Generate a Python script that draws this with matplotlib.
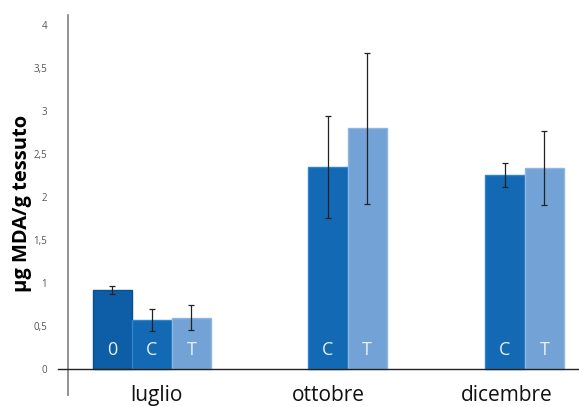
import matplotlib.pyplot as plt

# dati: MDA (µg/g tessuto), media e deviazione standard
mesi = ["luglio", "ottobre", "dicembre"]
gruppi = [["0", "C", "T"], ["C", "T"], ["C", "T"]]
medie = [[0.92, 0.57, 0.60], [2.35, 2.80], [2.26, 2.34]]
errori = [[0.05, 0.13, 0.15], [0.59, 0.88], [0.14, 0.43]]
yticks = [0, 0.5, 1, 1.5, 2, 2.5, 3, 3.5, 4]
ytick_labels = ["0", "0,5", "1", "1,5", "2", "2,5", "3", "3,5", "4"]

colori = {"0": "#0d5ea6", "C": "#1369b3", "T": "#72a2d6"}
bordi = {"0": "#0a4f8f", "C": "#2b86cf", "T": "#8fb7e2"}

# posizione dei gruppi e delle etichette sull'asse x
centri_gruppi = [0.493, 1.641, 2.681]
centri_etichette = [0.517, 1.526, 2.577]
larghezza = 0.232


def main():
    plt.rcParams['font.family'] = ['Open Sans', 'DejaVu Sans']
    fig = plt.figure(figsize=(5.79, 4.07), dpi=100)
    ax = fig.add_axes([0.1174, 0.0295, 0.8826, 0.934])

    for centro, nomi, vals, errs in zip(centri_gruppi, gruppi, medie, errori):
        n = len(nomi)
        for i, (nome, v, e) in enumerate(zip(nomi, vals, errs)):
            x = centro + (i - (n - 1) / 2) * larghezza
            ax.bar(x, v, width=larghezza, color=colori[nome],
                   edgecolor=bordi[nome], linewidth=1.0, zorder=2)
            ax.errorbar(x, v, yerr=e, fmt='none', ecolor='#222222',
                        elinewidth=0.9, capsize=2.5, capthick=0.9, zorder=3)
            ax.text(x, 0.22, nome, ha='center', va='center', fontsize=13,
                    color='#e6f0fa', zorder=4)

    ax.set_xlim(0, 3)
    ax.set_ylim(-0.3, 4.12)

    # assi
    for s in ['top', 'right', 'bottom']:
        ax.spines[s].set_visible(False)
    ax.spines['left'].set_color('#808080')
    ax.spines['left'].set_linewidth(1.2)
    ax.plot([-0.06, 3], [0, 0], color='#222222', linewidth=1.0,
            clip_on=False, zorder=5)

    ax.set_yticks(yticks)
    ax.set_yticklabels(ytick_labels, fontsize=7, color='#555555')
    ax.tick_params(axis='y', length=0, pad=15)
    ax.set_xticks([])
    for xc, mese in zip(centri_etichette, mesi):
        ax.text(xc, -0.31, mese, ha='center', va='center', fontsize=15,
                color='#111111')

    fig.text(0.038, 0.5, "µg MDA/g tessuto", rotation=90, ha='center',
             va='center', fontsize=14.5, fontweight='bold')

    fig.savefig("out.png", dpi=100)


if __name__ == '__main__':
    main()
